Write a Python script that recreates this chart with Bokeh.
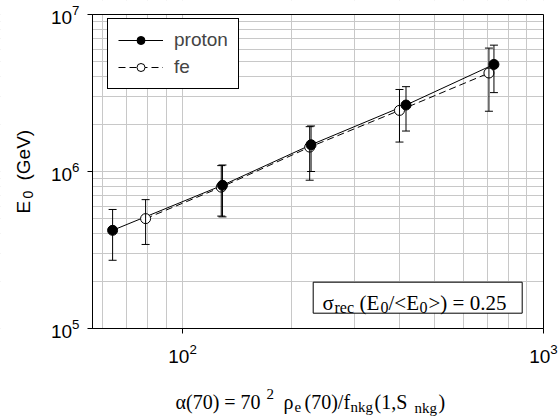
import math
from bokeh.plotting import figure
from bokeh.models import (Range1d, FixedTicker, LogTickFormatter, ColumnDataSource,
                          Whisker, TeeHead, Legend, LegendItem, Label, BoxAnnotation)
from bokeh.embed import file_html
from bokeh.resources import INLINE

# ---- data ----
proton_x = [64, 129, 227, 416, 729]
proton_y = [4.22e5, 8.17e5, 1.48e6, 2.65e6, 4.81e6]
proton_lo = [2.72e5, 5.14e5, 1.00e6, 1.81e6, 3.18e6]
proton_hi = [5.73e5, 1.10e6, 1.95e6, 3.47e6, 6.38e6]

fe_x = [79, 128, 225, 399, 706]
fe_y = [5.01e5, 7.95e5, 1.43e6, 2.45e6, 4.24e6]
fe_lo = [3.43e5, 5.20e5, 8.80e5, 1.54e6, 2.42e6]
fe_hi = [6.62e5, 1.09e6, 1.93e6, 3.33e6, 6.11e6]

x_major = [100, 1000]
x_minor = [60, 70, 80, 90, 200, 300, 400, 500, 600, 700, 800, 900]
y_major = [1e5, 1e6, 1e7]
y_minor = [2e5, 3e5, 4e5, 5e5, 6e5, 7e5, 8e5, 9e5, 2e6, 3e6, 4e6, 5e6, 6e6, 7e6, 8e6, 9e6]

series_labels = ["proton", "fe"]

# plot (data) region limits
X0, X1 = 56.3, 1000
Y0, Y1 = 1e5, 1e7

SANS = "Liberation Sans"
SERIF = "Liberation Serif"
GRID = "#c8c8c8"

# The frame covers the whole canvas, so that texts outside the data region are not clipped.
W, H = 560, 416
PX_L, PX_R, PX_T, PX_B = 92, 543, 14, 328
dec_x = (PX_R - PX_L) / (math.log10(X1) - math.log10(X0))
dec_y = (PX_B - PX_T) / (math.log10(Y1) - math.log10(Y0))
xr = Range1d(10 ** (math.log10(X0) - PX_L / dec_x), 10 ** (math.log10(X1) + (W - PX_R) / dec_x))
yr = Range1d(10 ** (math.log10(Y0) - (H - PX_B) / dec_y), 10 ** (math.log10(Y1) + PX_T / dec_y))

p = figure(width=W, height=H, x_axis_type="log", y_axis_type="log",
           x_range=xr, y_range=yr,
           output_backend="svg", toolbar_location=None,
           min_border=0, min_border_left=0, min_border_right=0,
           min_border_top=0, min_border_bottom=0)
p.outline_line_color = None
p.background_fill_color = "white"
p.border_fill_color = "white"

xt = FixedTicker(ticks=x_major, minor_ticks=x_minor)
yt = FixedTicker(ticks=y_major, minor_ticks=y_minor)
p.xaxis.ticker = xt
p.yaxis.ticker = yt
p.xgrid.ticker = xt
p.ygrid.ticker = yt
p.xaxis.formatter = LogTickFormatter()
p.yaxis.formatter = LogTickFormatter()
p.xaxis.fixed_location = Y0
p.yaxis.fixed_location = X0
p.xaxis.bounds = (X0, X1)
p.yaxis.bounds = (Y0, Y1)
for ax in (p.xaxis, p.yaxis):
    ax.axis_line_color = "black"
    ax.major_tick_line_color = "black"
    ax.major_tick_in = 0
    ax.major_tick_out = 5
    ax.minor_tick_line_color = None
    ax.major_label_text_font = SANS
    ax.major_label_text_font_size = "19px"
    ax.major_label_text_color = "black"
p.xaxis.major_label_standoff = 10
p.yaxis.major_label_standoff = 8

for g in (p.xgrid, p.ygrid):
    g.grid_line_color = GRID
    g.grid_line_alpha = 1
    g.minor_grid_line_color = GRID
    g.minor_grid_line_alpha = 1
p.xgrid.bounds = (X0, X1)
p.ygrid.bounds = (Y0, Y1)

# white masks so that the grid stays inside the data region
for kw in (dict(right=X0), dict(left=X1), dict(top=Y0), dict(bottom=Y1)):
    p.add_layout(BoxAnnotation(fill_color="white", fill_alpha=1, line_alpha=0,
                               level="underlay", **kw))
# frame box
p.add_layout(BoxAnnotation(left=X0, right=X1, bottom=Y0, top=Y1, fill_alpha=0,
                           line_color="black", line_alpha=1, line_width=1, level="guide"))

src_p = ColumnDataSource(dict(x=proton_x, y=proton_y, lo=proton_lo, hi=proton_hi))
src_f = ColumnDataSource(dict(x=fe_x, y=fe_y, lo=fe_lo, hi=fe_hi))

for src in (src_f, src_p):
    w = Whisker(source=src, base="x", upper="hi", lower="lo", dimension="height",
                line_color="black", line_width=1, level="glyph",
                upper_head=TeeHead(size=8, line_color="black", line_width=1),
                lower_head=TeeHead(size=8, line_color="black", line_width=1))
    p.add_layout(w)

fl = p.line("x", "y", source=src_f, line_color="black", line_width=1, line_dash="7 4")
pl = p.line("x", "y", source=src_p, line_color="black", line_width=1)
fs = p.scatter("x", "y", source=src_f, size=10, fill_color="white", line_color="black", line_width=1)
ps = p.scatter("x", "y", source=src_p, size=10, fill_color="black", line_color="black")

legend = Legend(items=[LegendItem(label=series_labels[0], renderers=[pl, ps]),
                       LegendItem(label=series_labels[1], renderers=[fl, fs])],
                location=(107, H - 89), margin=0, padding=10, spacing=5,
                glyph_width=45, glyph_height=20, label_height=20, label_standoff=11,
                label_text_font=SANS, label_text_font_size="19px",
                border_line_color="black", border_line_alpha=1, border_line_width=1,
                background_fill_color="white", background_fill_alpha=1)
p.add_layout(legend)


def lab(cx, cy, text, size, font, angle=0.0):
    p.add_layout(Label(x=cx, y=H - cy, x_units="screen", y_units="screen",
                       text=text, text_font=font, text_font_size=f"{size}px",
                       text_baseline="alphabetic", text_align="left",
                       angle=angle, text_color="black"))


# sigma box
p.add_layout(BoxAnnotation(left=312.7, right=521.7, bottom=H - 312.7, top=H - 281.7,
                           left_units="screen", right_units="screen",
                           top_units="screen", bottom_units="screen",
                           fill_color="white", fill_alpha=1, line_color="black",
                           line_alpha=1, line_width=1))
lab(322, 302, "σ", 21, SERIF)
lab(334, 307, "rec", 16, SERIF)
lab(359, 302, "(E", 21, SERIF)
lab(380, 307, "0", 16, SERIF)
lab(388, 302, "/<E", 21, SERIF)
lab(419, 307, "0", 16, SERIF)
lab(428, 302, ">) = 0.25", 21, SERIF)

# x axis label
lab(175, 401, "α(70) = 70", 20, SERIF)
lab(266, 393, "2", 15, SERIF)
lab(283, 401, "ρ", 20, SERIF)
lab(294, 406, "e", 15, SERIF)
lab(304, 401, "(70)/f", 20, SERIF)
lab(350, 406, "nkg", 15, SERIF)
lab(374, 401, "(1,S", 20, SERIF)
lab(414, 407, "nkg", 15, SERIF)
lab(438, 401, ")", 20, SERIF)

# y axis label (rotated)
lab(23, 213, "E", 19, SANS, math.pi / 2)
lab(27.5, 198, "0", 14, SANS, math.pi / 2)
lab(23, 180, "(GeV)", 19, SANS, math.pi / 2)

open("out.html", "w").write(file_html(p, INLINE))
